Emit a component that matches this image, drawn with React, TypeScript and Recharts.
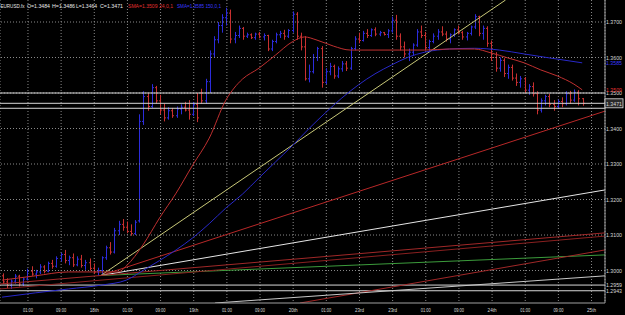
import React from 'react';
import { ComposedChart, Bar, Line, XAxis, YAxis, CartesianGrid, ReferenceLine } from 'recharts';

// Hourly EURUSD bars: [open, high, low, close]
const ohlc: [number, number, number, number][] = [
  [1.2985, 1.2992, 1.2962, 1.2968], [1.2968, 1.2978, 1.2950, 1.2958], [1.2958, 1.2975, 1.2948, 1.2970],
  [1.2970, 1.2990, 1.2963, 1.2984], [1.2984, 1.2988, 1.2955, 1.2962], [1.2962, 1.2980, 1.2956, 1.2976],
  [1.2976, 1.3005, 1.2972, 1.2998], [1.2998, 1.3012, 1.2985, 1.2990], [1.2990, 1.3002, 1.2978, 1.2996],
  [1.2996, 1.3018, 1.2990, 1.3010], [1.3010, 1.3015, 1.2992, 1.2998], [1.2998, 1.3025, 1.2995, 1.3020],
  [1.3020, 1.3030, 1.3005, 1.3012], [1.3012, 1.3040, 1.3008, 1.3034], [1.3034, 1.3050, 1.3025, 1.3045],
  [1.3045, 1.3058, 1.3020, 1.3028], [1.3028, 1.3042, 1.3015, 1.3036], [1.3036, 1.3048, 1.3010, 1.3016],
  [1.3016, 1.3040, 1.3012, 1.3032], [1.3032, 1.3044, 1.3008, 1.3014], [1.3014, 1.3030, 1.3002, 1.3022],
  [1.3022, 1.3034, 1.3000, 1.3006], [1.3006, 1.3020, 1.2990, 1.2996], [1.2996, 1.3008, 1.2986, 1.3000],
  [1.3000, 1.3040, 1.2986, 1.3036], [1.3036, 1.3070, 1.3030, 1.3064], [1.3064, 1.3080, 1.3045, 1.3052],
  [1.3052, 1.3120, 1.3048, 1.3112], [1.3112, 1.3140, 1.3100, 1.3130], [1.3130, 1.3145, 1.3112, 1.3122],
  [1.3122, 1.3138, 1.3105, 1.3110], [1.3110, 1.3130, 1.3098, 1.3104], [1.3104, 1.3142, 1.3100, 1.3136],
  [1.3140, 1.3440, 1.3135, 1.3420], [1.3420, 1.3505, 1.3410, 1.3490], [1.3490, 1.3500, 1.3450, 1.3462],
  [1.3462, 1.3525, 1.3458, 1.3515], [1.3515, 1.3520, 1.3470, 1.3478], [1.3478, 1.3495, 1.3440, 1.3452],
  [1.3452, 1.3470, 1.3420, 1.3430], [1.3430, 1.3460, 1.3425, 1.3450], [1.3450, 1.3458, 1.3430, 1.3436],
  [1.3436, 1.3462, 1.3430, 1.3455], [1.3455, 1.3468, 1.3440, 1.3460], [1.3460, 1.3475, 1.3448, 1.3452],
  [1.3452, 1.3480, 1.3425, 1.3440], [1.3440, 1.3475, 1.3435, 1.3468], [1.3468, 1.3500, 1.3418, 1.3430],
  [1.3500, 1.3512, 1.3470, 1.3478], [1.3478, 1.3540, 1.3470, 1.3532], [1.3532, 1.3620, 1.3500, 1.3610],
  [1.3610, 1.3660, 1.3600, 1.3650], [1.3650, 1.3700, 1.3640, 1.3690], [1.3690, 1.3722, 1.3670, 1.3712],
  [1.3712, 1.3740, 1.3690, 1.3725], [1.3725, 1.3735, 1.3640, 1.3652], [1.3652, 1.3672, 1.3640, 1.3662],
  [1.3662, 1.3690, 1.3655, 1.3682], [1.3682, 1.3686, 1.3650, 1.3660], [1.3660, 1.3670, 1.3655, 1.3664],
  [1.3664, 1.3668, 1.3652, 1.3656], [1.3656, 1.3670, 1.3650, 1.3666], [1.3666, 1.3672, 1.3654, 1.3658],
  [1.3658, 1.3668, 1.3648, 1.3662], [1.3662, 1.3664, 1.3618, 1.3624], [1.3624, 1.3650, 1.3618, 1.3645],
  [1.3645, 1.3670, 1.3640, 1.3664], [1.3664, 1.3675, 1.3655, 1.3668], [1.3668, 1.3678, 1.3650, 1.3660],
  [1.3660, 1.3680, 1.3655, 1.3676], [1.3676, 1.3730, 1.3670, 1.3722], [1.3722, 1.3728, 1.3650, 1.3660],
  [1.3660, 1.3670, 1.3620, 1.3630], [1.3630, 1.3660, 1.3535, 1.3540], [1.3540, 1.3580, 1.3530, 1.3560],
  [1.3560, 1.3610, 1.3555, 1.3600], [1.3600, 1.3630, 1.3590, 1.3625], [1.3625, 1.3632, 1.3515, 1.3530],
  [1.3530, 1.3570, 1.3525, 1.3560], [1.3560, 1.3585, 1.3550, 1.3575], [1.3575, 1.3580, 1.3540, 1.3548],
  [1.3548, 1.3575, 1.3542, 1.3568], [1.3568, 1.3590, 1.3560, 1.3582], [1.3582, 1.3590, 1.3562, 1.3570],
  [1.3570, 1.3630, 1.3565, 1.3625], [1.3625, 1.3660, 1.3620, 1.3652], [1.3652, 1.3670, 1.3640, 1.3648],
  [1.3648, 1.3675, 1.3645, 1.3668], [1.3668, 1.3680, 1.3655, 1.3662], [1.3662, 1.3682, 1.3658, 1.3678],
  [1.3678, 1.3685, 1.3660, 1.3666], [1.3666, 1.3675, 1.3660, 1.3670], [1.3670, 1.3672, 1.3662, 1.3665],
  [1.3665, 1.3680, 1.3655, 1.3675], [1.3675, 1.3715, 1.3670, 1.3705], [1.3705, 1.3720, 1.3650, 1.3660],
  [1.3660, 1.3668, 1.3620, 1.3630], [1.3630, 1.3645, 1.3600, 1.3610], [1.3610, 1.3625, 1.3590, 1.3615],
  [1.3615, 1.3640, 1.3605, 1.3635], [1.3635, 1.3680, 1.3630, 1.3672], [1.3672, 1.3690, 1.3655, 1.3662],
  [1.3662, 1.3672, 1.3620, 1.3628], [1.3628, 1.3650, 1.3615, 1.3645], [1.3645, 1.3668, 1.3640, 1.3660],
  [1.3660, 1.3680, 1.3650, 1.3672], [1.3672, 1.3688, 1.3660, 1.3666], [1.3666, 1.3674, 1.3645, 1.3652],
  [1.3652, 1.3668, 1.3640, 1.3664], [1.3664, 1.3682, 1.3658, 1.3678], [1.3678, 1.3690, 1.3665, 1.3670],
  [1.3670, 1.3675, 1.3650, 1.3658], [1.3658, 1.3672, 1.3648, 1.3668], [1.3668, 1.3690, 1.3662, 1.3686],
  [1.3686, 1.3722, 1.3680, 1.3715], [1.3715, 1.3718, 1.3660, 1.3668], [1.3668, 1.3690, 1.3650, 1.3682],
  [1.3682, 1.3688, 1.3630, 1.3640], [1.3640, 1.3648, 1.3590, 1.3600], [1.3600, 1.3615, 1.3560, 1.3570],
  [1.3570, 1.3600, 1.3560, 1.3592], [1.3592, 1.3598, 1.3545, 1.3555], [1.3555, 1.3580, 1.3540, 1.3572],
  [1.3572, 1.3580, 1.3535, 1.3542], [1.3542, 1.3555, 1.3520, 1.3530], [1.3530, 1.3548, 1.3515, 1.3540],
  [1.3540, 1.3545, 1.3500, 1.3508], [1.3508, 1.3525, 1.3495, 1.3518], [1.3518, 1.3530, 1.3490, 1.3498],
  [1.3498, 1.3505, 1.3440, 1.3452], [1.3452, 1.3485, 1.3445, 1.3478], [1.3478, 1.3495, 1.3465, 1.3490],
  [1.3490, 1.3498, 1.3460, 1.3468], [1.3468, 1.3480, 1.3450, 1.3462], [1.3462, 1.3482, 1.3455, 1.3476],
  [1.3476, 1.3488, 1.3460, 1.3470], [1.3470, 1.3505, 1.3465, 1.3498], [1.3498, 1.3506, 1.3470, 1.3480],
  [1.3480, 1.3510, 1.3475, 1.3502], [1.3502, 1.3508, 1.3465, 1.3484], [1.3484, 1.3486, 1.3464, 1.3471],
];

// SMA(24) red: [bar index, value]
const sma24: [number, number][] = [
  [0, 1.2973], [8, 1.2985], [16, 1.2996], [24, 1.2996], [28, 1.2996], [30, 1.3013], [34, 1.3072],
  [38, 1.3148], [42, 1.3218], [46, 1.3297], [50, 1.3373], [54, 1.3480], [56, 1.3514], [58, 1.3539],
  [62, 1.3570], [66, 1.3607], [70, 1.3644], [73, 1.3658], [76, 1.3649], [80, 1.3632], [84, 1.3621],
  [90, 1.3621], [96, 1.3621], [102, 1.3621], [108, 1.3624], [114, 1.3624], [118, 1.3613],
  [122, 1.3599], [126, 1.3585], [130, 1.3565], [134, 1.3548], [138, 1.3525], [140, 1.3509],
];

// SMA(150) blue: [bar index, value]
const sma150: [number, number][] = [
  [0, 1.2925], [8, 1.2937], [16, 1.2948], [24, 1.2959], [30, 1.2973], [34, 1.3000], [38, 1.3028],
  [42, 1.3058], [46, 1.3092], [50, 1.3132], [54, 1.3176], [58, 1.3215], [62, 1.3261], [66, 1.3306],
  [70, 1.3351], [74, 1.3399], [78, 1.3444], [82, 1.3486], [86, 1.3523], [90, 1.3554], [94, 1.3579],
  [98, 1.3601], [102, 1.3615], [108, 1.3624], [114, 1.3626], [120, 1.3621], [126, 1.3610],
  [132, 1.3599], [140, 1.3585],
];

// Fan / trend lines: [[x1, price1], [x2, price2]] in bar-index units
const fanLines: [[number, number], [number, number]][] = [
  [[24.35, 1.2986], [122, 1.3762]],
  [[24.35, 1.2986], [146, 1.3449]],
  [[24.35, 1.2986], [146, 1.3227]],
  [[24.35, 1.2986], [146, 1.3044]],
  [[0, 1.2962], [146, 1.3106]],
  [[0, 1.2948], [146, 1.3097]],
  [[72.4, 1.29085], [146, 1.3058]],
  [[51.9, 1.29085], [146, 1.2985]],
];
const fanColors = ['#c8c878', '#b82828', '#e6e6e6', '#3c9c3c', '#a02828', '#8a2020', '#a02828', '#c8c8c8'];

const horizontalLevels = [1.3500, 1.3471, 1.3457, 1.2959, 1.2943];
const priceLevels = [1.30, 1.31, 1.32, 1.33, 1.34, 1.35, 1.36, 1.37];
const markerLabels = [1.3585, 1.3509, 1.3471, 1.2959, 1.2943];

const timeTicks = [6.75, 14.75, 22.75, 30.75, 38.75, 46.75, 54.75, 62.75, 70.75, 78.75, 86.75, 94.75, 102.75, 110.75, 118.75, 126.75, 134.75, 142.75];
const timeLabels = ['01:00', '09:00', '18th', '01:00', '09:00', '19th', '01:00', '09:00', '20th', '01:00', '23rd', '23rd', '01:00', '09:00', '24th', '01:00', '09:00', '25th'];

// Header legend pieces: [text, colour key]
const headerPieces: [string, string][] = [
  ['EURUSD.fx', 'w'], ['O=1.3484', 'w'], ['H=1.3486', 'w'], ['L=1.3464', 'w'], ['C=1.3471', 'w'],
  ['SMA=1.3509 24,0,1', 'r'], ['SMA=1.3585 150,0,1', 'b'],
];
const headerX = [0.5, 27, 52, 76, 100, 128, 177];
const headerLen = [24, 23, 23, 21, 23, 45, 44];
const headerSize = [4.8, 5.5, 5.5, 5.5, 5.5, 5.5, 5.5];
const headerFill: Record<string, string> = { w: '#e8e8e8', r: '#e03030', b: '#3a3aff' };

const rows = ohlc.map(([o, h, l, c], i) => ({ x: i + 0.5, range: [l, h], o, h, l, c }));
const sma24Rows = sma24.map(([i, v]) => ({ x: i + 0.5, v }));
const sma150Rows = sma150.map(([i, v]) => ({ x: i + 0.5, v }));

const FONT = '"Liberation Sans", Arial, sans-serif';

const OhlcShape = (props: any) => {
  const { x, y, width, height, payload } = props;
  if (!payload || height == null) return null;
  const { o, h, l, c } = payload;
  const cx = Math.round(x + width / 2) + 0.5;
  const py = (p: number) => y + ((h - p) / (h - l || 1)) * height;
  const color = c >= o ? '#2c2cdc' : '#c83030';
  return (
    <g stroke={color} strokeWidth={1}>
      <line x1={cx} x2={cx} y1={y} y2={y + Math.max(height, 1)} />
      <line x1={cx - 1.5} x2={cx} y1={py(o)} y2={py(o)} />
      <line x1={cx} x2={cx + 1.5} y1={py(c)} y2={py(c)} />
    </g>
  );
};

const XTick = (props: any) => {
  const { x, y, payload } = props;
  const idx = timeTicks.findIndex((t) => Math.abs(t - payload.value) < 0.01);
  const label = idx >= 0 ? timeLabels[idx] : '';
  const len = label.length === 5 ? 10 : 9;
  return (
    <text x={x} y={y + 6.5} textAnchor="middle" fill="#d8d8d8" fontSize={6} fontFamily={FONT}
      textLength={len} lengthAdjust="spacingAndGlyphs">{label}</text>
  );
};

const YTick = (props: any) => {
  const { x, y, payload } = props;
  const v = payload.value;
  const text = v.toFixed(4);
  let fill = '#d8d8d8';
  if (Math.abs(v - 1.3585) < 1e-6) fill = '#3a3aff';
  if (Math.abs(v - 1.3509) < 1e-6) fill = '#e03030';
  const boxed = Math.abs(v - 1.3471) < 1e-6;
  return (
    <g>
      {boxed && <rect x={x - 1} y={y - 4.5} width={18} height={9} fill="#2a2a2a" stroke="#e0e0e0" strokeWidth={0.8} />}
      <text x={x} y={y + 2.2} fill={fill} fontSize={6} fontFamily={FONT}
        textLength={16} lengthAdjust="spacingAndGlyphs">{text}</text>
    </g>
  );
};

export default function App() {
  return (
    <div style={{ position: 'relative', width: 625, height: 315, background: '#000' }}>
      <style>{'body{margin:0;background:#000}'}</style>
      <ComposedChart width={625} height={315} data={rows} margin={{ top: 0, right: 0, bottom: 0, left: 0 }}>
        <CartesianGrid horizontal={false} vertical stroke="#8a8a8a" strokeDasharray="1 2" />
        {priceLevels.map((p) => (
          <ReferenceLine key={'g' + p} y={p} stroke="#8a8a8a" strokeDasharray="1 2" />
        ))}
        <XAxis dataKey="x" type="number" domain={[0, 146]} allowDataOverflow ticks={timeTicks} interval={0}
          height={12} tickSize={0} tickMargin={2} tick={<XTick />} stroke="#a0a0a0" />
        <YAxis orientation="right" type="number" domain={[1.29085, 1.3762]} allowDataOverflow
          ticks={[...priceLevels, ...markerLabels]} interval={0} width={20} tickSize={0} tickMargin={1}
          tick={<YTick />} stroke="#a0a0a0" />
        {horizontalLevels.map((p) => (
          <ReferenceLine key={'h' + p} y={p} stroke="#d8d8d8" strokeWidth={1} />
        ))}
        {fanLines.map((seg, i) => (
          <ReferenceLine key={'f' + i} segment={[{ x: seg[0][0], y: seg[0][1] }, { x: seg[1][0], y: seg[1][1] }]}
            stroke={fanColors[i]} strokeWidth={1} ifOverflow="hidden" />
        ))}
        <Bar dataKey="range" barSize={3} shape={(p: any) => <OhlcShape {...p} />} isAnimationActive={false} />
        <Line data={sma150Rows} dataKey="v" stroke="#2828c8" strokeWidth={1} dot={false} activeDot={false} type="monotone" isAnimationActive={false} />
        <Line data={sma24Rows} dataKey="v" stroke="#c03030" strokeWidth={1} dot={false} activeDot={false} type="monotone" isAnimationActive={false} />
      </ComposedChart>
      <svg width={625} height={12} style={{ position: 'absolute', left: 0, top: 0, pointerEvents: 'none' }}>
        {headerPieces.map(([t, k], i) => (
          <text key={i} x={headerX[i]} y={7.5} fill={headerFill[k]} fontSize={headerSize[i]} fontFamily={FONT}
            textLength={headerLen[i]} lengthAdjust="spacingAndGlyphs">{t}</text>
        ))}
      </svg>
    </div>
  );
}
